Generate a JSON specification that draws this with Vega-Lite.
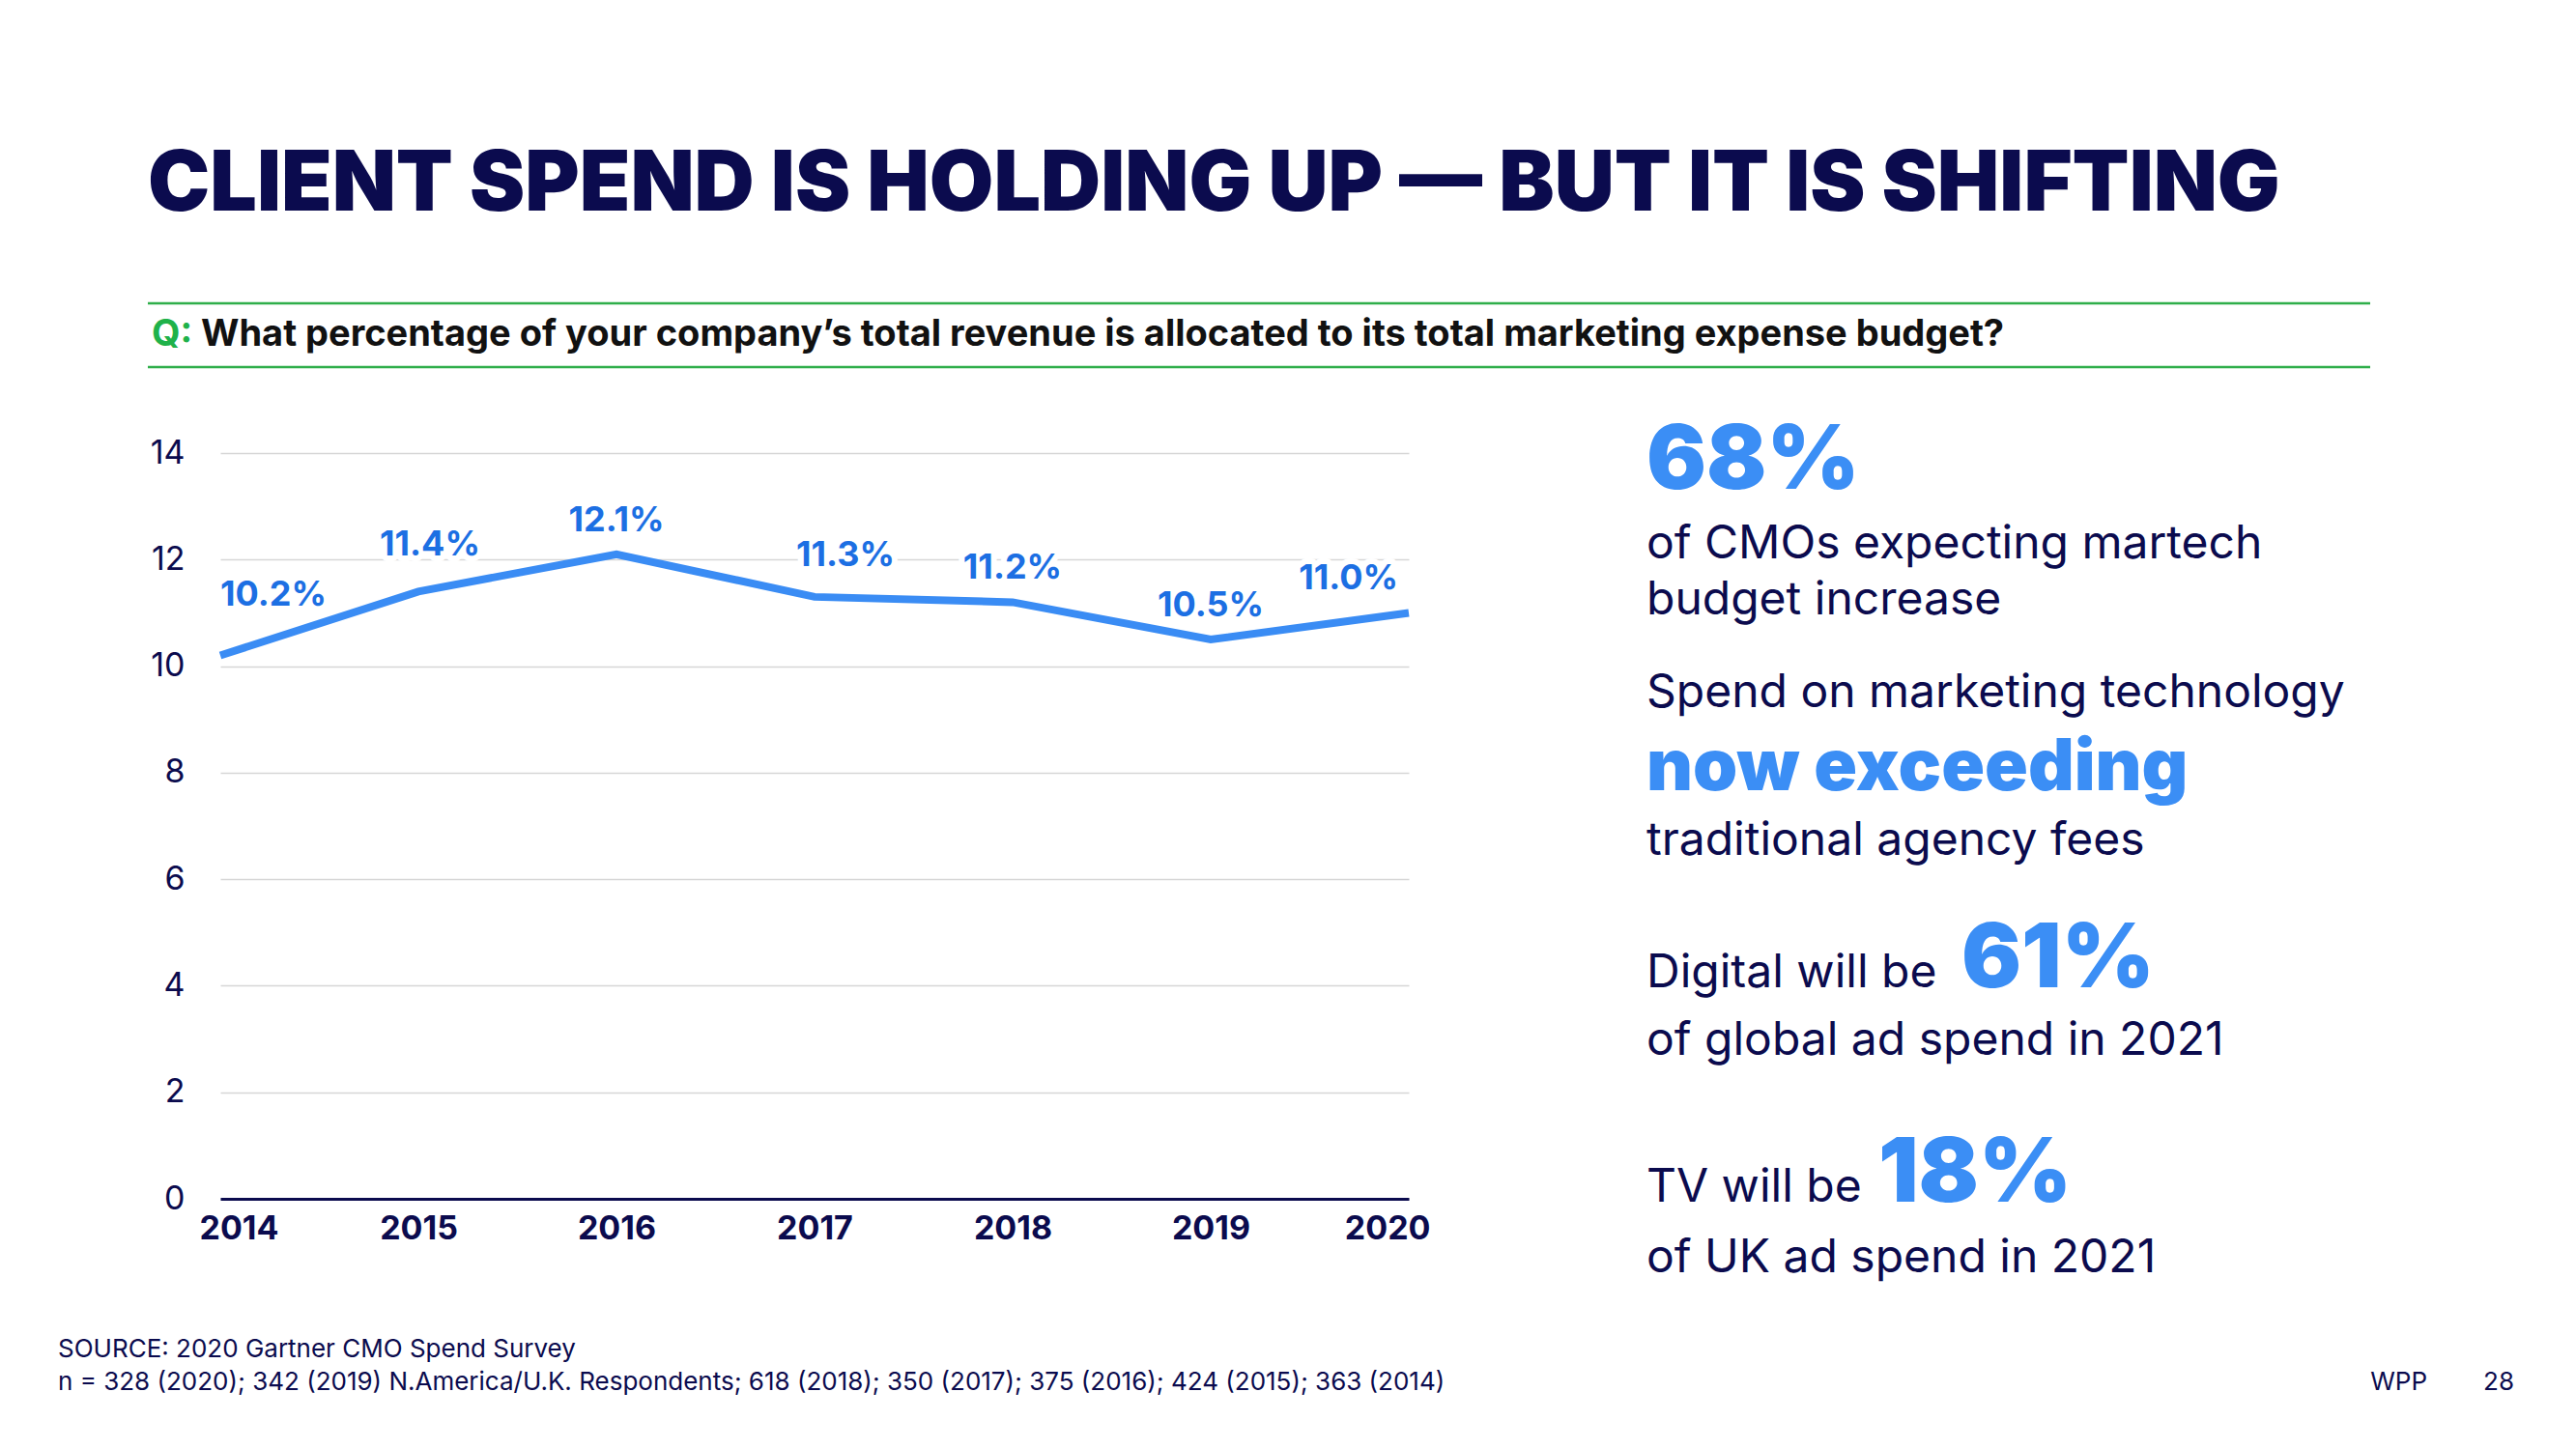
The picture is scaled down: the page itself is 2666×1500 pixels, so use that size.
{
  "$schema": "https://vega.github.io/schema/vega-lite/v6.json",
  "background": "white",
  "padding": {"left": 60, "top": 148, "right": 20, "bottom": 10},
  "title": {
    "text": "CLIENT SPEND IS HOLDING UP — BUT IT IS SHIFTING",
    "anchor": "start",
    "frame": "group",
    "dx": 93,
    "offset": 77,
    "font": "Inter",
    "fontSize": 86,
    "fontWeight": 900,
    "color": "#0b0b4e"
  },
  "config": {"view": {"stroke": null}, "font": "Inter"},
  "datasets": {
    "spend": [
      {"year": "2014", "share": 0.102},
      {"year": "2015", "share": 0.114},
      {"year": "2016", "share": 0.121},
      {"year": "2017", "share": 0.113},
      {"year": "2018", "share": 0.112},
      {"year": "2019", "share": 0.105},
      {"year": "2020", "share": 0.110}
    ],
    "edges": [{"edge": "top"}, {"edge": "bottom"}],
    "question": [
      {"part": "prefix", "text": "Q:"},
      {"part": "body", "text": "What percentage of your company’s total revenue is allocated to its total marketing expense budget?"}
    ],
    "panel": [
      {"line": 1, "role": "figure", "text": "68%"},
      {"line": 2, "role": "text", "text": "of CMOs expecting martech"},
      {"line": 3, "role": "text", "text": "budget increase"},
      {"line": 4, "role": "text", "text": "Spend on marketing technology"},
      {"line": 5, "role": "headline", "text": "now exceeding"},
      {"line": 6, "role": "text", "text": "traditional agency fees"},
      {"line": 7, "role": "text", "text": "Digital will be"},
      {"line": 7, "role": "figure", "text": "61%"},
      {"line": 8, "role": "text", "text": "of global ad spend in 2021"},
      {"line": 9, "role": "text", "text": "TV will be"},
      {"line": 9, "role": "figure", "text": "18%"},
      {"line": 10, "role": "text", "text": "of UK ad spend in 2021"}
    ],
    "footer": [
      {"part": "source", "line": 1, "text": "SOURCE: 2020 Gartner CMO Spend Survey"},
      {"part": "source", "line": 2, "text": "n = 328 (2020); 342 (2019) N.America/U.K. Respondents; 618 (2018); 350 (2017); 375 (2016); 424 (2015); 363 (2014)"},
      {"part": "brand", "line": 2, "text": "WPP"},
      {"part": "page", "line": 2, "text": "28"}
    ]
  },
  "center": true,
  "spacing": 50,
  "vconcat": [
    {
      "width": 2356,
      "height": 66,
      "layer": [
        {
          "data": {"name": "edges"},
          "mark": {"type": "rule", "color": "#2fae4a", "strokeWidth": 2.5, "x2Offset": -56},
          "encoding": {
            "x": {"value": 0},
            "x2": {"value": "width"},
            "y": {"field": "edge", "type": "nominal", "sort": ["top", "bottom"], "scale": {"type": "point", "padding": 0}, "axis": null}
          }
        },
        {
          "data": {"name": "question"},
          "transform": [{"filter": "datum.part === 'prefix'"}],
          "mark": {"type": "text", "align": "left", "baseline": "middle", "dx": 4, "font": "Inter", "fontSize": 38, "fontWeight": 700, "color": "#1fb24a"},
          "encoding": {"x": {"value": 0}, "text": {"field": "text"}}
        },
        {
          "data": {"name": "question"},
          "transform": [{"filter": "datum.part === 'body'"}],
          "mark": {"type": "text", "align": "left", "baseline": "middle", "dx": 55, "font": "Inter", "fontSize": 38, "fontWeight": 700, "color": "#111111"},
          "encoding": {"x": {"value": 0}, "text": {"field": "text"}}
        }
      ]
    },
    {
      "bounds": "flush",
      "spacing": 246,
      "hconcat": [
        {
          "width": 1230,
          "height": 772,
          "data": {"name": "spend"},
          "encoding": {
            "x": {
              "field": "year", "type": "ordinal",
              "scale": {"type": "point", "padding": 0},
              "axis": {
                "title": null, "domain": true, "domainColor": "#0b0b4e", "domainWidth": 3,
                "ticks": false, "grid": false, "labelAngle": 0,
                "labelFont": "Inter", "labelFontSize": 34, "labelFontWeight": 700, "labelColor": "#0b0b4e",
                "labelPadding": 14, "labelFlush": true, "labelFlushOffset": 22
              }
            },
            "y": {
              "field": "share", "type": "quantitative",
              "scale": {"domain": [0, 0.14], "nice": false},
              "axis": {
                "title": null, "values": [0, 0.02, 0.04, 0.06, 0.08, 0.1, 0.12, 0.14],
                "labelExpr": "format(datum.value * 100, 'd')",
                "domain": false, "ticks": false, "grid": true, "gridColor": "#d6d6d6", "gridWidth": 1.5,
                "labelFont": "Inter", "labelFontSize": 34, "labelFontWeight": 400, "labelColor": "#0b0b4e",
                "labelPadding": 37
              }
            }
          },
          "layer": [
            {
              "transform": [{"filter": "datum.year === '2014'"}],
              "mark": {"type": "text", "align": "left", "baseline": "middle", "dy": -63, "font": "Inter", "fontSize": 36, "fontWeight": 700, "fill": "white", "stroke": "white", "strokeWidth": 12, "strokeJoin": "round"},
              "encoding": {"text": {"field": "share", "format": ".1%"}}
            },
            {
              "transform": [{"filter": "datum.year === '2015'"}],
              "mark": {"type": "text", "align": "center", "baseline": "middle", "dx": 12, "dy": -48, "font": "Inter", "fontSize": 36, "fontWeight": 700, "fill": "white", "stroke": "white", "strokeWidth": 12, "strokeJoin": "round"},
              "encoding": {"text": {"field": "share", "format": ".1%"}}
            },
            {
              "transform": [{"filter": "datum.year === '2017'"}],
              "mark": {"type": "text", "align": "center", "baseline": "middle", "dx": 32, "dy": -43, "font": "Inter", "fontSize": 36, "fontWeight": 700, "fill": "white", "stroke": "white", "strokeWidth": 12, "strokeJoin": "round"},
              "encoding": {"text": {"field": "share", "format": ".1%"}}
            },
            {
              "transform": [{"filter": "datum.year === '2016' || datum.year === '2018' || datum.year === '2019'"}],
              "mark": {"type": "text", "align": "center", "baseline": "middle", "dy": -35, "font": "Inter", "fontSize": 36, "fontWeight": 700, "fill": "white", "stroke": "white", "strokeWidth": 12, "strokeJoin": "round"},
              "encoding": {"text": {"field": "share", "format": ".1%"}}
            },
            {
              "transform": [{"filter": "datum.year === '2020'"}],
              "mark": {"type": "text", "align": "right", "baseline": "middle", "dx": -11, "dy": -35, "font": "Inter", "fontSize": 36, "fontWeight": 700, "fill": "white", "stroke": "white", "strokeWidth": 12, "strokeJoin": "round"},
              "encoding": {"text": {"field": "share", "format": ".1%"}}
            },
            {
              "mark": {"type": "line", "color": "#3a8cf4", "strokeWidth": 8}
            },
            {
              "transform": [{"filter": "datum.year === '2014'"}],
              "mark": {"type": "text", "align": "left", "baseline": "middle", "dy": -63, "font": "Inter", "fontSize": 36, "fontWeight": 700, "color": "#1c6fe3"},
              "encoding": {"text": {"field": "share", "format": ".1%"}}
            },
            {
              "transform": [{"filter": "datum.year === '2015'"}],
              "mark": {"type": "text", "align": "center", "baseline": "middle", "dx": 12, "dy": -48, "font": "Inter", "fontSize": 36, "fontWeight": 700, "color": "#1c6fe3"},
              "encoding": {"text": {"field": "share", "format": ".1%"}}
            },
            {
              "transform": [{"filter": "datum.year === '2017'"}],
              "mark": {"type": "text", "align": "center", "baseline": "middle", "dx": 32, "dy": -43, "font": "Inter", "fontSize": 36, "fontWeight": 700, "color": "#1c6fe3"},
              "encoding": {"text": {"field": "share", "format": ".1%"}}
            },
            {
              "transform": [{"filter": "datum.year === '2016' || datum.year === '2018' || datum.year === '2019'"}],
              "mark": {"type": "text", "align": "center", "baseline": "middle", "dy": -35, "font": "Inter", "fontSize": 36, "fontWeight": 700, "color": "#1c6fe3"},
              "encoding": {"text": {"field": "share", "format": ".1%"}}
            },
            {
              "transform": [{"filter": "datum.year === '2020'"}],
              "mark": {"type": "text", "align": "right", "baseline": "middle", "dx": -11, "dy": -35, "font": "Inter", "fontSize": 36, "fontWeight": 700, "color": "#1c6fe3"},
              "encoding": {"text": {"field": "share", "format": ".1%"}}
            }
          ]
        },
        {
          "width": 730,
          "height": 865,
          "data": {"name": "panel"},
          "encoding": {
            "y": {
              "field": "line", "type": "quantitative",
              "scale": {"domain": [1, 2, 3, 4, 5, 6, 7, 8, 9, 10], "range": [37, 109, 167, 263, 349, 416, 553, 623, 775, 848], "nice": false, "zero": false},
              "axis": null
            },
            "x": {"value": 0},
            "text": {"field": "text"}
          },
          "layer": [
            {
              "transform": [{"filter": "datum.role === 'text'"}],
              "mark": {"type": "text", "align": "left", "baseline": "alphabetic", "font": "Inter", "fontSize": 48, "fontWeight": 400, "color": "#0b0b4e"}
            },
            {
              "transform": [{"filter": "datum.role === 'figure' && datum.line === 1"}],
              "mark": {"type": "text", "align": "left", "baseline": "alphabetic", "font": "Inter", "fontSize": 92, "fontWeight": 900, "color": "#3b8ef5"}
            },
            {
              "transform": [{"filter": "datum.role === 'figure' && datum.line === 7"}],
              "mark": {"type": "text", "align": "left", "baseline": "alphabetic", "dx": 326, "font": "Inter", "fontSize": 92, "fontWeight": 900, "color": "#3b8ef5"}
            },
            {
              "transform": [{"filter": "datum.role === 'figure' && datum.line === 9"}],
              "mark": {"type": "text", "align": "left", "baseline": "alphabetic", "dx": 240, "font": "Inter", "fontSize": 92, "fontWeight": 900, "color": "#3b8ef5"}
            },
            {
              "transform": [{"filter": "datum.role === 'headline'"}],
              "mark": {"type": "text", "align": "left", "baseline": "alphabetic", "font": "Inter", "fontSize": 74, "fontWeight": 900, "color": "#3b8ef5"}
            }
          ]
        }
      ]
    },
    {
      "width": 2542,
      "height": 34,
      "data": {"name": "footer"},
      "encoding": {
        "y": {"field": "line", "type": "ordinal", "scale": {"type": "point", "padding": 0}, "axis": null},
        "text": {"field": "text"}
      },
      "layer": [
        {
          "transform": [{"filter": "datum.part === 'source'"}],
          "mark": {"type": "text", "align": "left", "baseline": "alphabetic", "font": "Inter", "fontSize": 26, "color": "#0b0b4e"},
          "encoding": {"x": {"value": 0}}
        },
        {
          "transform": [{"filter": "datum.part === 'brand'"}],
          "mark": {"type": "text", "align": "right", "baseline": "alphabetic", "dx": -90, "font": "Inter", "fontSize": 26, "color": "#0b0b4e"},
          "encoding": {"x": {"value": "width"}}
        },
        {
          "transform": [{"filter": "datum.part === 'page'"}],
          "mark": {"type": "text", "align": "right", "baseline": "alphabetic", "font": "Inter", "fontSize": 26, "color": "#0b0b4e"},
          "encoding": {"x": {"value": "width"}}
        }
      ]
    }
  ]
}
